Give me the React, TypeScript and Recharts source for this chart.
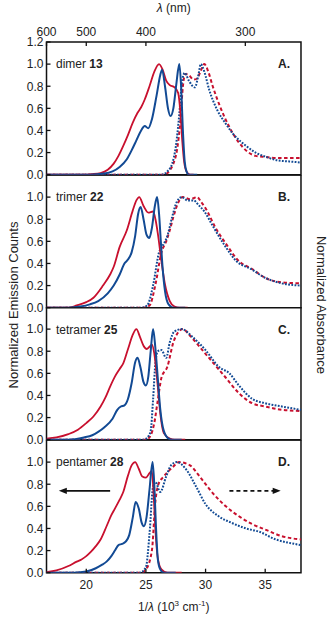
import React from 'react';
import { LineChart, Line, XAxis, YAxis, ReferenceArea, ReferenceLine } from 'recharts';

const RED = '#c8102e';
const BLUE = '#124a94';
const INK = '#111';
const FONT = 'Liberation Sans, Arial, Helvetica, sans-serif';

const X_MIN = 10000 / 600;
const X_MAX = 38;
const lambdaTicks = [600, 500, 400, 300];
const waveTicks = [20, 25, 30, 35];
const yTicksTop = [0, 0.2, 0.4, 0.6, 0.8, 1.0, 1.2];
const yTicks = [0, 0.2, 0.4, 0.6, 0.8, 1.0];

type P = { x: number; y: number };
const pts = (a: number[][]): P[] => a.map(([x, y]) => ({ x, y }));

// Panel A: dimer 13
const dimerRedEm = pts([[16.67,0],[19.5,0],[20.5,0.005],[21.2,0.015],[21.8,0.045],[22.3,0.1],[22.7,0.17],[23.1,0.26],[23.5,0.36],[23.9,0.47],[24.3,0.56],[24.6,0.61],[24.9,0.68],[25.3,0.8],[25.7,0.93],[26.1,1.0],[26.4,0.95],[26.7,0.85],[27.0,0.81],[27.4,0.79],[27.7,0.74],[27.9,0.55],[28.05,0.3],[28.2,0.12],[28.4,0.03],[28.7,0],[29.0,0]]);
const dimerBlueEm = pts([[16.67,0],[20.3,0],[21.5,0.01],[22.2,0.03],[22.8,0.07],[23.4,0.14],[23.8,0.22],[24.2,0.31],[24.6,0.4],[24.9,0.44],[25.2,0.42],[25.5,0.5],[25.9,0.72],[26.2,0.9],[26.36,0.95],[26.6,0.8],[26.85,0.6],[27.06,0.53],[27.3,0.6],[27.55,0.82],[27.8,1.0],[27.95,0.8],[28.1,0.4],[28.25,0.12],[28.4,0.03],[28.6,0],[29.3,0]]);
const dimerRedAbs = pts([[16.67,0],[26.5,0],[27.0,0.04],[27.3,0.1],[27.6,0.22],[27.9,0.5],[28.1,0.8],[28.3,0.91],[28.6,0.9],[29.0,0.86],[29.3,0.87],[29.6,0.94],[29.9,1.0],[30.2,0.94],[30.6,0.8],[31.2,0.62],[32.0,0.43],[32.8,0.29],[33.5,0.21],[34.2,0.17],[35.0,0.16],[36.4,0.15],[38,0.15]]);
const dimerBlueAbs = pts([[16.67,0],[26.3,0],[26.8,0.03],[27.2,0.1],[27.5,0.25],[27.8,0.55],[28.0,0.82],[28.25,0.92],[28.6,0.85],[29.1,0.79],[29.4,0.9],[29.6,1.0],[29.9,0.93],[30.3,0.77],[31.0,0.58],[31.7,0.46],[32.3,0.37],[33.4,0.26],[34.2,0.2],[35.1,0.16],[36.0,0.13],[37.0,0.12],[38,0.11]]);

// Panel B: trimer 22
const trimerRedEm = pts([[16.67,0],[18.5,0],[19.2,0.02],[20.0,0.05],[20.6,0.09],[21.4,0.2],[22.0,0.3],[22.3,0.37],[22.8,0.55],[23.4,0.7],[23.9,0.88],[24.2,0.97],[24.44,1.0],[24.8,0.92],[25.2,0.86],[25.6,0.87],[25.8,0.8],[26.0,0.67],[26.3,0.42],[26.6,0.21],[27.0,0.06],[27.4,0.01],[27.8,0],[28.5,0]]);
const trimerBlueEm = pts([[16.67,0],[18.5,0],[19.5,0.01],[20.3,0.03],[21.0,0.06],[21.8,0.13],[22.3,0.2],[22.8,0.3],[23.2,0.4],[23.45,0.43],[23.8,0.5],[24.1,0.65],[24.35,0.85],[24.56,0.91],[24.8,0.8],[25.05,0.66],[25.28,0.63],[25.5,0.72],[25.75,0.92],[25.94,1.0],[26.1,0.85],[26.25,0.6],[26.4,0.36],[26.6,0.15],[26.9,0.03],[27.3,0],[28.3,0]]);
const trimerRedAbs = pts([[16.67,0],[24.8,0],[25.3,0.02],[25.8,0.21],[26.3,0.5],[26.7,0.6],[27.0,0.7],[27.3,0.82],[27.8,0.97],[28.1,1.0],[28.7,0.98],[29.3,1.0],[29.6,0.96],[30.0,0.9],[30.8,0.73],[31.7,0.58],[32.8,0.42],[33.9,0.35],[35.0,0.27],[36.4,0.23],[38,0.22]]);
const trimerBlueAbs = pts([[16.67,0],[24.6,0],[25.1,0.02],[25.6,0.2],[26.1,0.5],[26.4,0.56],[26.8,0.65],[27.2,0.82],[27.6,0.96],[28.0,1.0],[28.5,0.97],[29.0,0.97],[29.4,0.93],[29.9,0.87],[30.6,0.74],[31.5,0.58],[32.6,0.42],[33.8,0.35],[35.0,0.27],[36.4,0.22],[38,0.2]]);

// Panel C: tetramer 25
const tetramerRedEm = pts([[16.67,0.01],[17.5,0.02],[18.5,0.05],[19.3,0.09],[20.0,0.15],[20.6,0.21],[21.2,0.3],[21.6,0.38],[22.0,0.48],[22.4,0.57],[22.8,0.64],[23.1,0.69],[23.5,0.82],[23.9,0.95],[24.2,1.0],[24.5,0.93],[24.8,0.85],[25.06,0.82],[25.3,0.84],[25.5,0.86],[25.7,0.78],[25.97,0.51],[26.2,0.24],[26.5,0.06],[27.0,0.01],[27.4,0],[28.3,0]]);
const tetramerBlueEm = pts([[16.67,0],[18.5,0],[19.8,0.02],[20.5,0.04],[21.0,0.07],[21.5,0.11],[22.2,0.19],[22.6,0.27],[22.9,0.3],[23.2,0.31],[23.5,0.37],[23.8,0.51],[24.1,0.7],[24.3,0.74],[24.55,0.65],[24.8,0.52],[25.0,0.49],[25.2,0.57],[25.4,0.8],[25.6,1.0],[25.8,0.82],[26.0,0.55],[26.2,0.28],[26.5,0.08],[26.9,0.01],[27.2,0],[28.0,0]]);
const tetramerRedAbs = pts([[16.67,0],[25.0,0],[25.4,0.04],[25.7,0.15],[26.0,0.36],[26.3,0.56],[26.8,0.66],[27.3,0.88],[27.7,0.97],[28.1,1.0],[28.7,0.94],[29.5,0.84],[30.6,0.7],[31.7,0.56],[32.8,0.42],[33.9,0.33],[35.0,0.3],[36.4,0.27],[38,0.26]]);
const tetramerBlueAbs = pts([[16.67,0],[24.8,0],[25.2,0.03],[25.4,0.08],[25.6,0.36],[25.8,0.7],[26.0,0.8],[26.3,0.81],[26.7,0.74],[27.0,0.88],[27.4,0.98],[28.0,1.0],[28.9,0.93],[30.0,0.81],[31.1,0.66],[32.0,0.6],[32.8,0.49],[33.9,0.37],[35.0,0.33],[36.4,0.3],[38,0.27]]);

// Panel D: pentamer 28
const pentamerRedEm = pts([[16.67,0.005],[17.5,0.02],[18.5,0.06],[19.2,0.1],[19.6,0.12],[20.0,0.15],[20.4,0.19],[20.8,0.24],[21.2,0.3],[21.7,0.42],[22.1,0.52],[22.4,0.58],[22.8,0.66],[23.1,0.73],[23.5,0.88],[23.8,0.97],[24.1,1.0],[24.4,0.94],[24.7,0.87],[25.0,0.86],[25.3,0.9],[25.5,0.92],[25.65,0.7],[25.8,0.38],[26.0,0.13],[26.3,0.03],[26.8,0],[28.0,0]]);
const pentamerBlueEm = pts([[16.67,0],[19.0,0],[20.0,0.01],[20.8,0.04],[21.3,0.07],[21.7,0.1],[22.1,0.15],[22.4,0.2],[22.7,0.25],[23.0,0.26],[23.3,0.28],[23.6,0.34],[23.9,0.5],[24.14,0.64],[24.4,0.58],[24.65,0.45],[24.83,0.42],[25.05,0.5],[25.3,0.75],[25.56,1.0],[25.7,0.8],[25.85,0.4],[26.0,0.12],[26.2,0.03],[26.5,0],[27.5,0]]);
const pentamerRedAbs = pts([[16.67,0],[24.6,0],[25.0,0.03],[25.5,0.2],[25.8,0.65],[26.05,0.8],[26.5,0.87],[27.2,0.95],[27.8,1.0],[28.7,0.97],[29.5,0.87],[30.6,0.72],[31.7,0.6],[32.8,0.51],[33.9,0.44],[35.0,0.39],[36.4,0.33],[38,0.3]]);
const pentamerBlueAbs = pts([[16.67,0],[24.5,0],[25.0,0.05],[25.3,0.35],[25.6,0.78],[25.8,0.82],[26.2,0.73],[26.7,0.87],[27.1,0.97],[27.6,1.0],[28.4,0.93],[29.2,0.78],[30.0,0.62],[31.1,0.51],[32.2,0.45],[33.4,0.4],[34.5,0.37],[35.9,0.3],[37.0,0.27],[38,0.25]]);

// Direction arrows in panel D (start / end in data units, y level)
const emissionArrow = [22.0, 17.7];
const absorbanceArrow = [32.0, 36.3];
const arrowLevel = 0.74;

const panels = [
  { name: 'dimer', num: '13', tag: 'A.', redEm: dimerRedEm, blueEm: dimerBlueEm, redAbs: dimerRedAbs, blueAbs: dimerBlueAbs },
  { name: 'trimer', num: '22', tag: 'B.', redEm: trimerRedEm, blueEm: trimerBlueEm, redAbs: trimerRedAbs, blueAbs: trimerBlueAbs },
  { name: 'tetramer', num: '25', tag: 'C.', redEm: tetramerRedEm, blueEm: tetramerBlueEm, redAbs: tetramerRedAbs, blueAbs: tetramerBlueAbs },
  { name: 'pentamer', num: '28', tag: 'D.', redEm: pentamerRedEm, blueEm: pentamerBlueEm, redAbs: pentamerRedAbs, blueAbs: pentamerBlueAbs },
];

const PLOT_TOP = 42;
const PANEL_H = 132.7;
const LEFT_W = 46.5;
const RIGHT_M = 30;
const TOP_AXIS_H = 42;
const BOTTOM_AXIS_H = 30;
const SPILL = 9;

const YTick = (props: any) => {
  const { x, y, payload } = props;
  return (
    <g>
      <text x={x} y={y} dy="0.36em" textAnchor="end" fontSize={12} fill="#222" fontFamily={FONT}>
        {Number(payload.value).toFixed(1)}
      </text>
      <line x1={x + 3} x2={x + 7} y1={y} y2={y} stroke={INK} strokeWidth={1.3} />
    </g>
  );
};

const XBottomTick = (props: any) => {
  const { x, y, payload } = props;
  return (
    <g>
      <text x={x} y={y} dy="0.71em" textAnchor="middle" fontSize={12} fill="#222" fontFamily={FONT}>
        {payload.value}
      </text>
      <line x1={x} x2={x} y1={y - 8} y2={y - 12} stroke={INK} strokeWidth={1.3} />
    </g>
  );
};

const XTopTick = (props: any) => {
  const { x, y, payload } = props;
  return (
    <g>
      <text x={x} y={y} textAnchor="middle" fontSize={12} fill="#222" fontFamily={FONT}>
        {Math.round(10000 / payload.value)}
      </text>
      <line x1={x} x2={x} y1={y + 6} y2={y + 10} stroke={INK} strokeWidth={1.3} />
    </g>
  );
};

const arrowShape = (dashed: boolean) => (p: any) => {
  const { x1, y1, x2, y2 } = p;
  const dir = Math.sign(x2 - x1);
  return (
    <g>
      <line x1={x1} y1={y1} x2={x2 - dir * 5} y2={y2} stroke={INK} strokeWidth={1.6} strokeDasharray={dashed ? '4 3' : undefined} />
      <polygon points={`${x2},${y2} ${x2 - dir * 8},${y2 - 3.2} ${x2 - dir * 8},${y2 + 3.2}`} fill={INK} />
    </g>
  );
};

function Panel({ idx }: { idx: number }) {
  const p = panels[idx];
  const isTop = idx === 0;
  const isBottom = idx === panels.length - 1;
  const topM = isTop ? TOP_AXIS_H : 0;
  const botM = isBottom ? BOTTOM_AXIS_H : SPILL;
  const chartTop = isTop ? 0 : PLOT_TOP + idx * PANEL_H;
  const h = PANEL_H + topM + botM;
  return (
    <div style={{ position: 'absolute', left: 0, top: chartTop }}>
      <LineChart width={331} height={h} margin={{ top: 0, right: RIGHT_M, bottom: isBottom ? 0 : SPILL, left: 0 }}>
        <XAxis
          dataKey="x"
          type="number"
          domain={[X_MIN, X_MAX]}
          allowDataOverflow
          ticks={waveTicks}
          hide={!isBottom}
          height={BOTTOM_AXIS_H}
          axisLine={false}
          tickLine={false}
          tickSize={0}
          tickMargin={8}
          tick={<XBottomTick />}
        />
        {isTop && (
          <XAxis
            xAxisId="top"
            orientation="top"
            dataKey="x"
            type="number"
            domain={[X_MIN, X_MAX]}
            allowDataOverflow
            ticks={lambdaTicks.map((l) => 10000 / l)}
            height={TOP_AXIS_H}
            axisLine={false}
            tickLine={false}
            tickSize={0}
            tickMargin={6}
            tick={<XTopTick />}
            interval={0}
          />
        )}
        <YAxis
          type="number"
          domain={[0, 1.2]}
          allowDataOverflow
          ticks={isTop ? yTicksTop : yTicks}
          width={LEFT_W}
          axisLine={false}
          tickLine={false}
          tickSize={0}
          tickMargin={3}
          tick={<YTick />}
          interval={0}
        />
        <Line data={p.redAbs} dataKey="y" type="monotone" stroke={RED} strokeWidth={2} strokeDasharray="3.5 2.5" dot={false} isAnimationActive={false} />
        <Line data={p.blueAbs} dataKey="y" type="monotone" stroke={BLUE} strokeWidth={2} strokeDasharray="1.8 1.4" dot={false} isAnimationActive={false} />
        <Line data={p.redEm} dataKey="y" type="monotone" stroke={RED} strokeWidth={1.8} dot={false} isAnimationActive={false} />
        <Line data={p.blueEm} dataKey="y" type="monotone" stroke={BLUE} strokeWidth={2} dot={false} isAnimationActive={false} />
        {isBottom && (
          <ReferenceLine
            segment={[{ x: emissionArrow[0], y: arrowLevel }, { x: emissionArrow[1], y: arrowLevel }]}
            shape={arrowShape(false)}
          />
        )}
        {isBottom && (
          <ReferenceLine
            segment={[{ x: absorbanceArrow[0], y: arrowLevel }, { x: absorbanceArrow[1], y: arrowLevel }]}
            shape={arrowShape(true)}
          />
        )}
        <ReferenceArea x1={X_MIN} x2={X_MAX} y1={0} y2={1.2} fill="none" stroke={INK} strokeWidth={1.5} />
      </LineChart>
    </div>
  );
}

export default function App() {
  const plotCenter = LEFT_W + (331 - RIGHT_M - LEFT_W) / 2;
  return (
    <div style={{ position: 'absolute', left: 0, top: 0, width: 331, height: 617, background: '#fff', fontFamily: FONT }}>
      {panels.map((_, i) => (
        <Panel key={i} idx={i} />
      ))}
      <svg width={331} height={617} style={{ position: 'absolute', left: 0, top: 0, pointerEvents: 'none' }}>
        <text x={plotCenter} y={11.5} textAnchor="middle" fontSize={12} fill="#222" fontFamily={FONT}>
          <tspan fontStyle="italic">λ</tspan> (nm)
        </text>
        <text x={plotCenter} y={611} textAnchor="middle" fontSize={12} fill="#222" fontFamily={FONT}>
          1/<tspan fontStyle="italic">λ</tspan>{'  (10'}
          <tspan fontSize={8} dy={-5}>3</tspan>
          <tspan dy={5}>{' cm'}</tspan>
          <tspan fontSize={8} dy={-5}>-1</tspan>
          <tspan dy={5}>)</tspan>
        </text>
        <text x={13} y={305} textAnchor="middle" dominantBaseline="central" fontSize={13} fill="#222" fontFamily={FONT} transform="rotate(-90 13 305)">
          Normalized Emission Counts
        </text>
        <text x={321} y={305} textAnchor="middle" dominantBaseline="central" fontSize={13} fill="#222" fontFamily={FONT} transform="rotate(90 321 305)">
          Normalized Absorbance
        </text>
        {panels.map((p, i) => {
          const y = PLOT_TOP + i * PANEL_H + 22 + 4.3;
          return (
            <g key={p.tag}>
              <text x={56} y={y} fontSize={12} fill="#222" fontFamily={FONT}>
                {p.name + ' '}
                <tspan fontWeight="bold">{p.num}</tspan>
              </text>
              <text x={290} y={y} textAnchor="end" fontSize={12} fontWeight="bold" fill="#222" fontFamily={FONT}>
                {p.tag}
              </text>
            </g>
          );
        })}
      </svg>
    </div>
  );
}
